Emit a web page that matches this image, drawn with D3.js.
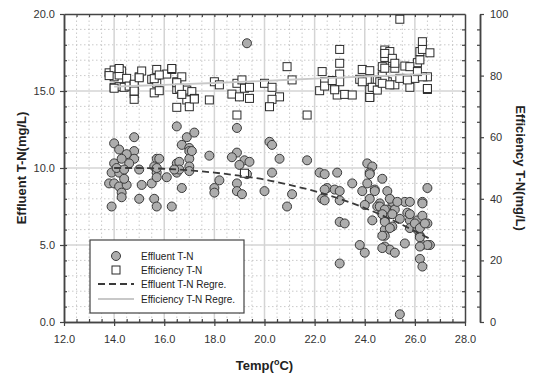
<!DOCTYPE html>
<html>
<head>
<meta charset="utf-8">
<script src="https://cdn.jsdelivr.net/npm/d3@7"></script>
<style>
  body { margin: 0; background: #fff; }
  svg { font-family: "Liberation Sans", Arial, sans-serif; }
</style>
</head>
<body>
<svg id="chart" width="533" height="378"></svg>
<script>
// Effluent T-N points: [temp, mg/L]
const effluent = [
  [19.3,18.1],[16.5,12.7],[18.9,12.6],[14.8,12.0],[16.9,12.0],[17.2,12.3],[14.0,11.6],[16.7,11.5],[20.2,11.7],[20.3,11.5],
  [14.2,11.2],[14.8,11.1],[14.5,10.9],[17.0,11.3],[17.0,11.1],[17.8,10.8],[18.9,11.0],[18.7,10.7],[19.2,10.5],[19.4,10.4],
  [20.6,10.6],[15.7,10.6],[15.8,10.6],[14.0,10.3],[14.8,10.6],[16.5,10.3],[16.6,10.4],[17.0,10.6],[14.3,10.6],[14.6,10.3],
  [15.0,9.9],[13.9,9.7],[14.2,9.7],[13.8,9.0],[14.0,9.0],[14.2,8.8],[14.3,8.4],[14.3,8.1],[14.5,8.9],[13.9,7.5],
  [14.4,9.3],[15.1,8.9],[15.0,8.0],[15.5,9.0],[15.6,8.0],[15.7,7.5],[15.6,10.1],[15.7,9.7],[15.7,9.4],[16.1,9.4],
  [16.3,7.5],[16.5,9.7],[16.7,8.7],[17.0,10.1],[17.1,11.1],[18.2,9.2],[18.0,8.7],[18.0,8.4],[18.9,9.0],[18.9,8.5],
  [19.1,8.3],[19.0,10.2],[19.3,9.6],[20.0,8.5],[20.3,9.7],[20.9,7.5],[21.1,8.3],[21.7,10.5],[22.2,9.7],[22.4,9.6],
  [22.9,9.7],[22.5,8.7],[22.4,8.6],[22.8,8.6],[23.0,8.5],[22.3,8.0],[22.4,7.9],[23.0,7.9],[23.5,9.0],[23.0,6.5],
  [23.2,6.4],[23.0,3.8],[23.8,5.0],[24.0,4.5],[24.1,10.3],[24.3,10.1],[24.2,9.7],[24.1,9.0],[23.9,8.5],[24.2,8.0],
  [24.0,7.6],[24.4,8.6],[24.7,9.3],[24.9,8.5],[24.6,7.7],[24.3,6.6],[24.5,7.5],[24.7,7.1],[24.8,6.6],[24.9,7.3],
  [25.1,7.8],[25.2,7.3],[25.0,7.0],[24.8,6.0],[24.8,5.6],[25.1,6.2],[25.4,6.7],[25.6,7.8],[25.8,7.8],[25.7,7.1],
  [25.8,6.6],[25.8,6.1],[26.1,6.6],[26.3,7.8],[26.3,6.9],[26.5,8.7],[26.5,6.4],[26.1,6.0],[26.2,5.6],[26.3,5.0],
  [26.6,5.0],[25.6,5.1],[24.8,4.9],[25.0,4.7],[25.2,4.5],[26.2,4.1],[26.3,3.6],[25.4,0.5],
  [24.2,9.6],[24.4,8.5],[25.0,8.0],[25.3,7.8],[26.3,7.7],[24.6,7.5],[24.8,7.3],[24.7,7.0],[25.1,7.0],[24.8,6.5],
  [25.0,6.1],[24.7,5.6],[25.8,7.0],[26.0,6.4],[26.2,6.1],[26.4,6.4],[26.2,5.5],[26.5,5.0],[26.2,4.9],[24.7,4.8],
  [14.1,10.0],[14.4,9.9],[15.7,10.0],[16.6,9.9],[16.4,9.9],[17.0,9.8]
];

// Efficiency T-N points: [temp, %]
const efficiency = [
  [13.8,80.9],[14.0,81.8],[14.2,82.0],[14.3,81.5],[14.0,79.6],[14.2,80.2],[14.5,79.1],[14.0,76.2],[14.2,76.4],[14.4,76.2],
  [14.6,76.6],[14.8,77.0],[14.8,74.2],[14.8,72.3],[15.0,79.6],[15.1,81.5],[15.5,78.8],[15.7,82.0],[15.7,77.5],[15.6,74.4],
  [15.8,75.1],[16.1,80.5],[16.3,82.0],[16.5,78.0],[16.7,79.6],[16.5,75.5],[16.7,74.4],[16.9,75.3],[17.1,74.8],[16.9,72.1],
  [17.2,72.6],[16.5,69.7],[17.0,69.9],[17.8,72.1],[18.0,78.0],[18.2,77.0],[18.7,74.0],[18.9,77.5],[19.1,78.6],[19.0,73.1],
  [19.2,75.9],[19.4,72.6],[19.4,76.2],[18.9,67.2],[20.0,77.5],[20.3,76.2],[20.6,73.1],[20.3,72.3],[20.2,69.9],[20.9,82.9],
  [21.1,78.6],[21.7,67.2],[22.2,75.1],[22.3,81.3],[22.4,78.0],[22.4,76.6],[22.8,77.0],[22.9,73.7],[23.0,88.5],[23.0,84.0],
  [23.0,80.5],[23.0,78.0],[23.2,73.9],[23.5,73.7],[23.8,78.8],[23.9,82.0],[24.2,81.6],[24.1,78.6],[24.2,73.1],[24.2,75.5],
  [24.4,76.2],[24.5,78.6],[24.7,82.9],[24.8,88.3],[24.8,85.9],[25.0,87.8],[25.1,84.2],[25.2,82.4],[24.7,79.9],[24.9,78.0],
  [25.2,77.0],[25.4,98.3],[25.4,79.1],[25.6,83.1],[25.7,79.1],[25.8,76.2],[26.0,79.1],[26.1,84.2],[26.2,85.1],[26.2,87.8],
  [26.3,91.0],[26.3,88.5],[26.6,87.4],[26.5,79.6],[26.5,75.5],[26.3,79.6],
  [23.9,78.0],[24.3,76.2],[24.5,75.3],[24.6,78.0],[24.8,78.6],[24.8,82.4],[24.8,87.2],[25.1,85.6],[25.2,84.0],[24.7,77.5],
  [25.0,77.0],[25.8,82.9],[25.7,78.6],[26.5,75.8],[26.1,81.3],[24.2,72.9],[22.7,78.4],[22.8,75.4],
  [14.2,82.3],[13.8,80.0],[14.8,77.2],[14.0,75.9],[14.8,75.0],[15.0,79.3],[15.6,79.0],[15.8,80.2],[16.3,82.3],[16.5,77.7],
  [16.6,75.9],[16.7,73.9],[17.2,72.4],[19.2,48.3]
];

// Regression curves
const effluentRegr = [[14,10.0],[15,10.0],[16,9.95],[17,9.85],[18,9.7],[19,9.5],[20,9.25],[21,8.9],[22,8.5],[23,8.0],[24,7.4],[25,6.7],[26,5.9],[26.6,5.4]];
const efficiencyRegr = [[14,76.4],[16,77.0],[18,77.6],[20,78.3],[22,79.0],[24,79.7],[26,80.3],[26.6,80.5]];

const xTicks = [12, 14, 16, 18, 20, 22, 24, 26, 28];
const yLeftTicks = [0, 5, 10, 15, 20];
const yRightTicks = [0, 20, 40, 60, 80, 100];

const legendItems = ["Effluent T-N", "Efficiency T-N", "Effluent T-N Regre.", "Efficiency T-N Regre."];

const svg = d3.select("#chart");
const x = d3.scaleLinear().domain([12, 28]).range([64, 465]);
const yL = d3.scaleLinear().domain([0, 20]).range([322, 14]);
const yR = d3.scaleLinear().domain([0, 100]).range([322, 14]);

const axisColor = "#444";

// Grid
const grid = svg.append("g");
const minorX = d3.range(12.5, 28, 0.5).filter(v => v % 2 !== 0);
const minorY = d3.range(1, 20, 1).filter(v => v % 5 !== 0);
grid.selectAll(".mx").data(minorX).join("line")
  .attr("x1", d => x(d)).attr("x2", d => x(d)).attr("y1", yL(0)).attr("y2", yL(20))
  .attr("stroke", "#bdbdbd").attr("stroke-width", 0.8).attr("stroke-dasharray", "1.5,2.5");
grid.selectAll(".my").data(minorY).join("line")
  .attr("x1", x(12)).attr("x2", x(28)).attr("y1", d => yL(d)).attr("y2", d => yL(d))
  .attr("stroke", "#bdbdbd").attr("stroke-width", 0.8).attr("stroke-dasharray", "1.5,2.5");
grid.selectAll(".Mx").data(xTicks.slice(1, -1)).join("line")
  .attr("x1", d => x(d)).attr("x2", d => x(d)).attr("y1", yL(0)).attr("y2", yL(20))
  .attr("stroke", "#d4d4d4").attr("stroke-width", 1.5);
grid.selectAll(".My").data(yLeftTicks.slice(1, -1)).join("line")
  .attr("x1", x(12)).attr("x2", x(28)).attr("y1", d => yL(d)).attr("y2", d => yL(d))
  .attr("stroke", "#d4d4d4").attr("stroke-width", 1.5);

// Axes
const fmt1 = d3.format(".1f");
function styleAxis(g) {
  g.select(".domain").attr("stroke", axisColor).attr("stroke-width", 1.5);
  g.selectAll(".tick line").attr("stroke", axisColor).attr("stroke-width", 1.2);
  g.selectAll("text").attr("fill", "#333").style("font-size", "11px");
}

svg.append("g").attr("transform", `translate(0,${yL(0)})`)
  .call(d3.axisBottom(x).tickValues(xTicks).tickFormat(fmt1).tickSize(4).tickPadding(9).tickSizeOuter(0))
  .call(styleAxis);
svg.append("g").attr("transform", `translate(0,${yL(0)})`)
  .call(d3.axisTop(x).tickValues(d3.range(12.5, 28, 0.5)).tickFormat("").tickSize(3).tickSizeOuter(0))
  .call(styleAxis);
svg.append("g").attr("transform", `translate(0,${yL(20)})`)
  .call(d3.axisBottom(x).tickValues(d3.range(12.5, 28, 0.5)).tickFormat("").tickSize(3).tickSizeOuter(0))
  .call(styleAxis);

svg.append("g").attr("transform", `translate(${x(12)},0)`)
  .call(d3.axisLeft(yL).tickValues(yLeftTicks).tickFormat(fmt1).tickSize(4).tickPadding(5).tickSizeOuter(0))
  .call(styleAxis);
svg.append("g").attr("transform", `translate(${x(12)},0)`)
  .call(d3.axisRight(yL).tickValues(d3.range(1, 20, 1)).tickFormat("").tickSize(3).tickSizeOuter(0))
  .call(styleAxis);
svg.append("g").attr("transform", `translate(${x(28)},0)`)
  .call(d3.axisLeft(yL).tickValues(d3.range(1, 20, 1)).tickFormat("").tickSize(3).tickSizeOuter(0))
  .call(styleAxis);

// Right axis (efficiency)
const rx = 480;
svg.append("g").attr("transform", `translate(${rx},0)`)
  .call(d3.axisRight(yR).tickValues(yRightTicks).tickFormat(d3.format("d")).tickSize(4).tickPadding(6).tickSizeOuter(0))
  .call(styleAxis);
svg.append("g").attr("transform", `translate(${rx},0)`)
  .call(d3.axisLeft(yR).tickValues(d3.range(5, 100, 5).filter(v => v % 20 !== 0)).tickFormat("").tickSize(3).tickSizeOuter(0))
  .call(styleAxis);

// Points
svg.append("g").selectAll("circle").data(effluent).join("circle")
  .attr("cx", d => x(d[0])).attr("cy", d => yL(d[1])).attr("r", 4.5)
  .attr("fill", "#adadad").attr("stroke", "#3a3a3a").attr("stroke-width", 1);

const sq = 8;
svg.append("g").selectAll("rect").data(efficiency).join("rect")
  .attr("x", d => x(d[0]) - sq / 2).attr("y", d => yR(d[1]) - sq / 2)
  .attr("width", sq).attr("height", sq)
  .attr("fill", "#fff").attr("stroke", "#2a2a2a").attr("stroke-width", 1);

// Regression lines
const lineL = d3.line().x(d => x(d[0])).y(d => yL(d[1])).curve(d3.curveMonotoneX);
const lineR = d3.line().x(d => x(d[0])).y(d => yR(d[1])).curve(d3.curveMonotoneX);
svg.append("path").datum(efficiencyRegr).attr("d", lineR)
  .attr("fill", "none").attr("stroke", "#c8c8c8").attr("stroke-width", 1.8);
svg.append("path").datum(effluentRegr).attr("d", lineL)
  .attr("fill", "none").attr("stroke", "#3a3a3a").attr("stroke-width", 1.8).attr("stroke-dasharray", "7,4");

// Legend
const lg = svg.append("g").attr("transform", "translate(90,240)");
lg.append("rect").attr("width", 154).attr("height", 73)
  .attr("fill", "#fff").attr("stroke", axisColor).attr("stroke-width", 1.2);
const rowY = [16, 30, 44, 59];
lg.selectAll("text").data(legendItems).join("text")
  .attr("x", 51).attr("y", (d, i) => rowY[i] + 3.5)
  .attr("fill", "#222").style("font-size", "10px").text(d => d);
lg.append("circle").attr("cx", 26).attr("cy", rowY[0]).attr("r", 4.5)
  .attr("fill", "#adadad").attr("stroke", "#3a3a3a");
lg.append("rect").attr("x", 26 - sq / 2).attr("y", rowY[1] - sq / 2).attr("width", sq).attr("height", sq)
  .attr("fill", "#fff").attr("stroke", "#2a2a2a");
lg.append("line").attr("x1", 8).attr("x2", 44).attr("y1", rowY[2]).attr("y2", rowY[2])
  .attr("stroke", "#3a3a3a").attr("stroke-width", 1.8).attr("stroke-dasharray", "7,4");
lg.append("line").attr("x1", 8).attr("x2", 44).attr("y1", rowY[3]).attr("y2", rowY[3])
  .attr("stroke", "#c8c8c8").attr("stroke-width", 1.8);

// Axis titles
svg.append("text").attr("transform", `translate(26,${yL(10)}) rotate(-90)`)
  .attr("text-anchor", "middle").style("font-size", "13px").style("font-weight", "bold")
  .attr("fill", "#222").text("Effluent T-N(mg/L)");
svg.append("text").attr("transform", `translate(516,${yL(10)}) rotate(90)`)
  .attr("text-anchor", "middle").style("font-size", "13px").style("font-weight", "bold")
  .attr("fill", "#222").text("Efficiency T-N(mg/L)");
const xt = svg.append("text").attr("x", x(20)).attr("y", 370)
  .attr("text-anchor", "middle").style("font-size", "13px").style("font-weight", "bold").attr("fill", "#222");
xt.append("tspan").text("Temp(");
xt.append("tspan").attr("dy", -5).style("font-size", "9px").text("o");
xt.append("tspan").attr("dy", 5).text("C)");
</script>
</body>
</html>
